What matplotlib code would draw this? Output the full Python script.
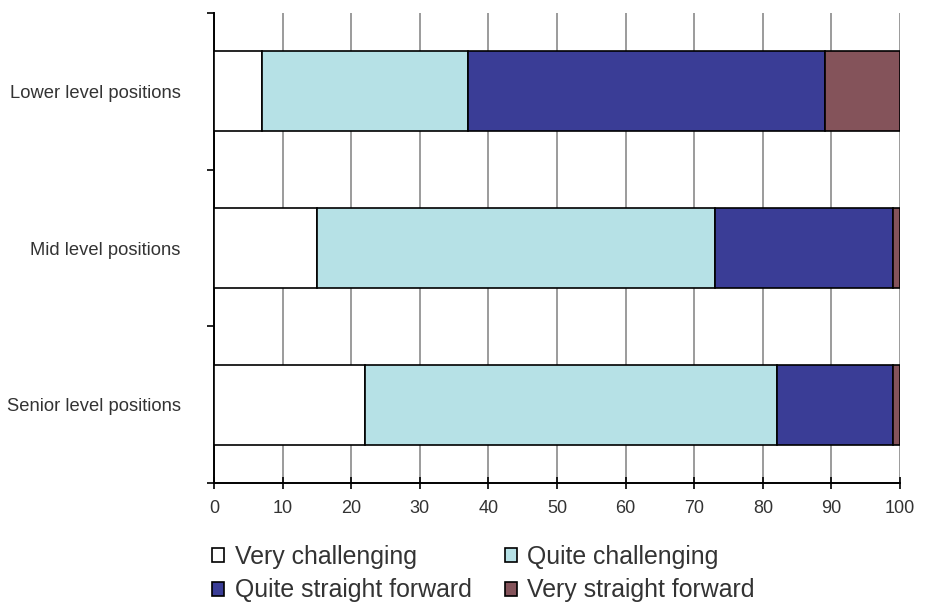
import matplotlib
matplotlib.use("Agg")
import matplotlib.pyplot as plt
from matplotlib.patches import Patch
import numpy as np

plt.rcParams['font.family'] = ['Liberation Sans', 'DejaVu Sans']

categories = ["Lower level positions", "Mid level positions", "Senior level positions"]
series_names = ["Very challenging", "Quite challenging", "Quite straight forward", "Very straight forward"]
very_challenging = [7, 15, 22]
quite_challenging = [30, 58, 60]
quite_straight = [52, 26, 17]
very_straight = [11, 1, 1]
colors = ["#FFFFFF", "#B6E1E6", "#3A3D96", "#84535A"]
x_ticks = [0, 10, 20, 30, 40, 50, 60, 70, 80, 90, 100]

fig = plt.figure(figsize=(9.29, 6.03), dpi=100)
ax = fig.add_axes([0.2304, 0.199, 0.7384, 0.7794])

ypos = np.arange(len(categories))
left = np.zeros(len(categories))
for name, vals, col in zip(series_names,
                           [very_challenging, quite_challenging, quite_straight, very_straight],
                           colors):
    ax.barh(ypos, vals, left=left, height=0.51, color=col, edgecolor="black",
            linewidth=1.2, label=name, zorder=3)
    left += np.array(vals)

ax.set_xlim(0, 100)
ax.set_ylim(2.5, -0.5)
ax.set_xticks(x_ticks)
ax.set_xticklabels([str(t) for t in x_ticks], fontsize=13, color="#333333")
ax.xaxis.grid(True, color="#8a8a8a", linewidth=1.2, zorder=0)
ax.set_axisbelow(True)

ax.set_yticks([-0.5, 0.5, 1.5, 2.5])
ax.set_yticklabels([])
ax.set_yticks(ypos, minor=True)
ax.set_yticklabels(categories, minor=True, fontsize=13.2, color="#333333")
ax.tick_params(axis="y", which="minor", length=0, pad=24)
ax.tick_params(axis="y", which="major", length=5, width=1.2, direction="out")
ax.tick_params(axis="x", length=8, width=1.2, direction="inout", pad=8)

for s in ["top", "right"]:
    ax.spines[s].set_visible(False)
for s in ["left", "bottom"]:
    ax.spines[s].set_linewidth(1.4)
    ax.spines[s].set_color("black")

# legend filled row by row: two entries per row
order = [0, 2, 1, 3]
handles = [Patch(facecolor=colors[i], edgecolor="black", linewidth=1.2) for i in order]
labels = [series_names[i] for i in order]
fig.legend(handles, labels, loc="upper left", bbox_to_anchor=(0.228, 0.097),
           ncol=2, frameon=False, fontsize=17.9, handlelength=0.5, handleheight=0.5,
           handletextpad=0.42, columnspacing=1.33, labelspacing=0.4,
           borderpad=0, borderaxespad=0, labelcolor="#333333")

fig.savefig("out.png", dpi=100)
